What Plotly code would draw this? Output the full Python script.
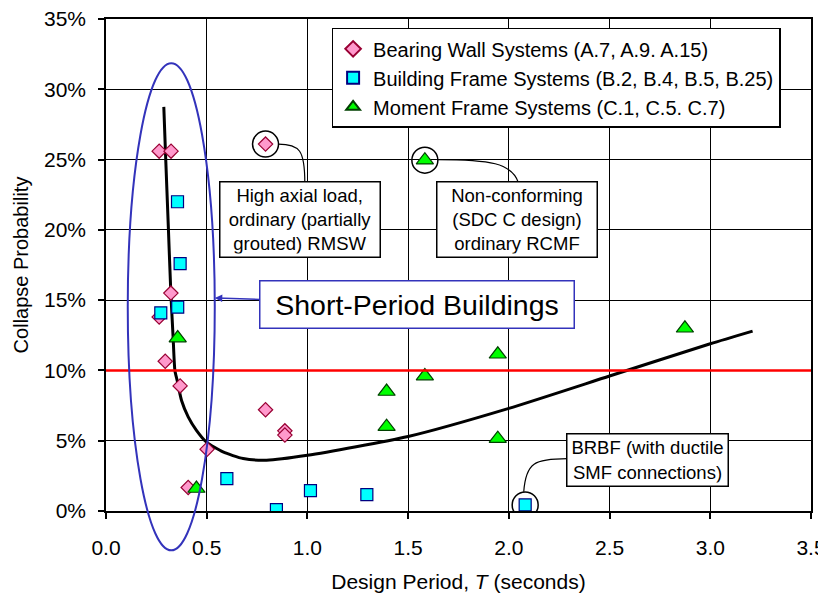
import plotly.graph_objects as go

# ---------------- data ----------------
bearing_T = [0.264, 0.323, 0.792, 0.322, 0.264, 0.294, 0.368, 0.792, 0.888, 0.888, 0.502, 0.408]
bearing_P = [25.6, 25.6, 26.1, 15.5, 13.8, 10.65, 8.9, 7.2, 5.7, 5.4, 4.4, 1.67]

frame_T = [0.355, 0.368, 0.356, 0.272, 0.600, 0.846, 1.015, 1.295, 2.081]
frame_P = [22.0, 17.6, 14.5, 14.1, 2.3, 0.1, 1.45, 1.17, 0.43]

moment_T = [0.356, 0.449, 1.393, 1.393, 1.583, 1.583, 1.945, 1.945, 2.874]
moment_P = [12.3, 1.6, 8.5, 6.0, 9.6, 24.96, 11.15, 5.15, 13.0]

curve_T = [0.287, 0.295, 0.310, 0.322, 0.333, 0.342, 0.353, 0.375, 0.408, 0.449, 0.499,
           0.581, 0.681, 0.797, 1.000, 1.500, 2.000, 2.500, 3.000, 3.210]
curve_P = [28.75, 25.6, 20.0, 15.5, 12.4, 10.0, 9.3, 7.86, 6.7, 5.74, 4.9,
           4.2, 3.73, 3.61, 3.96, 5.3, 7.3, 9.6, 11.9, 12.8]

threshold = 10.0

legend_names = [
    "Bearing Wall Systems (A.7, A.9. A.15)",
    "Building Frame Systems (B.2, B.4, B.5, B.25)",
    "Moment Frame Systems (C.1, C.5. C.7)",
]

x_ticks = [0.0, 0.5, 1.0, 1.5, 2.0, 2.5, 3.0, 3.5]
y_ticks = [0, 5, 10, 15, 20, 25, 30, 35]

# highlighted points (indices into the series above)
hl_bearing = 2
hl_moment = 5
hl_frame = 8

FONT = "Liberation Sans, Arial, sans-serif"
BLUE = "#3333BB"

fig = go.Figure()

# fitted curve (under markers)
fig.add_trace(go.Scatter(x=curve_T, y=curve_P, mode="lines",
                         line=dict(color="black", width=3, shape="spline", smoothing=0.6),
                         showlegend=False, hoverinfo="skip"))

fig.add_trace(go.Scatter(x=bearing_T, y=bearing_P, mode="markers", name=legend_names[0],
                         legendgroup="a",
                         marker=dict(symbol="diamond", size=11, color="#FF99CC",
                                     line=dict(color="#990033", width=1.2))))
fig.add_trace(go.Scatter(x=frame_T, y=frame_P, mode="markers", name=legend_names[1],
                         legendgroup="b",
                         marker=dict(symbol="square", size=12, color="#00FFFF",
                                     line=dict(color="#000080", width=1.2))))
fig.add_trace(go.Scatter(x=moment_T, y=moment_P, mode="markers", name=legend_names[2],
                         legendgroup="c",
                         marker=dict(symbol="triangle-up", size=15, color="#00FF00",
                                     line=dict(color="#004000", width=1.2))))

# circles around highlighted points
fig.add_trace(go.Scatter(
    x=[bearing_T[hl_bearing], moment_T[hl_moment], frame_T[hl_frame]],
    y=[bearing_P[hl_bearing], moment_P[hl_moment], frame_P[hl_frame]],
    mode="markers", showlegend=False, hoverinfo="skip",
    marker=dict(symbol="circle-open", size=26, color="black", line=dict(width=1.5))))

shapes = [
    dict(type="line", xref="x", yref="y", x0=0, x1=3.5, y0=threshold, y1=threshold,
         line=dict(color="#FF0000", width=2.5), layer="above"),
    # short-period ellipse (domain refs so it is not clipped at the axis)
    dict(type="circle", xref="x domain", yref="y domain",
         x0=(0.324 - 0.216) / 3.5, x1=(0.324 + 0.216) / 3.5,
         y0=(14.53 - 17.33) / 35, y1=(14.53 + 17.33) / 35,
         line=dict(color=BLUE, width=2), layer="above"),
    # connectors
    dict(type="path", xref="x", yref="y", path="M 0.855,26.10 C 0.962,26.10 0.987,25.66 0.987,23.35",
         line=dict(color="black", width=1.2), layer="above"),
    dict(type="path", xref="x", yref="y", path="M 1.646,25.0 C 1.906,25.0 2.015,24.75 2.047,23.37",
         line=dict(color="black", width=1.2), layer="above"),
    dict(type="path", xref="x", yref="y", path="M 2.074,1.37 C 2.084,3.47 2.129,3.72 2.290,3.73",
         line=dict(color="black", width=1.2), layer="above"),
]

box = dict(bgcolor="white", bordercolor="black", borderwidth=1.5, showarrow=False,
           font=dict(family=FONT, size=18.5, color="black"), xref="x", yref="y")
annotations = [
    dict(x=0.964, y=20.75, text="High axial load,<br>ordinary (partially<br>grouted) RMSW",
         width=153, height=68, borderpad=3, **box),
    dict(x=2.041, y=20.75, text="Non-conforming<br>(SDC C design)<br>ordinary RCMF",
         width=153, height=68, borderpad=3, **box),
    dict(x=2.688, y=3.62, text="BRBF (with ductile<br>SMF connections)",
         width=154, height=45, borderpad=3, **box),
    dict(x=0.540, y=15.16, ax=202.5, ay=6.8, xref="x", yref="y",
         text="Short-Period Buildings", showarrow=True, arrowhead=2, arrowsize=1,
         arrowwidth=1.5, arrowcolor=BLUE, bgcolor="white", bordercolor=BLUE,
         borderwidth=1.5, width=307, height=40, borderpad=3,
         font=dict(family=FONT, size=28.5, color="black")),
]

axis_common = dict(showline=True, linecolor="black", linewidth=1.5, mirror=True,
                   showgrid=True, gridcolor="black", gridwidth=1,
                   ticks="outside", ticklen=6, tickcolor="black", tickwidth=1.5,
                   zeroline=False, automargin=False, ticklabeloverflow="allow",
                   tickfont=dict(family=FONT, size=21, color="black"))

# the page body adds an 8px offset, so margins are reduced by 8px on top/left
fig.update_layout(
    width=826, height=593,
    margin=dict(l=98, r=23, t=11, b=90),
    paper_bgcolor="white", plot_bgcolor="white",
    font=dict(family=FONT, color="black"),
    xaxis=dict(range=[0, 3.5], tickvals=x_ticks, ticktext=[f"{v:.1f}" for v in x_ticks],
               ticklabelstandoff=11,
               title=dict(text="Design Period, <i>T</i> (seconds)", standoff=16,
                          font=dict(family=FONT, size=21, color="black")),
               **axis_common),
    yaxis=dict(range=[0, 35], tickvals=y_ticks, ticktext=[f"{v}%" for v in y_ticks],
               ticklabelstandoff=8,
               title=dict(text="Collapse Probability", standoff=10,
                          font=dict(family=FONT, size=20, color="black")),
               **axis_common),
    legend=dict(x=0.32, y=0.982, xanchor="left", yanchor="top",
                bgcolor="white", bordercolor="black", borderwidth=1.5,
                font=dict(family=FONT, size=20, color="black"),
                tracegroupgap=0, itemsizing="constant", entrywidth=420),
    shapes=shapes,
    annotations=annotations,
)

fig.write_html("out.html")
